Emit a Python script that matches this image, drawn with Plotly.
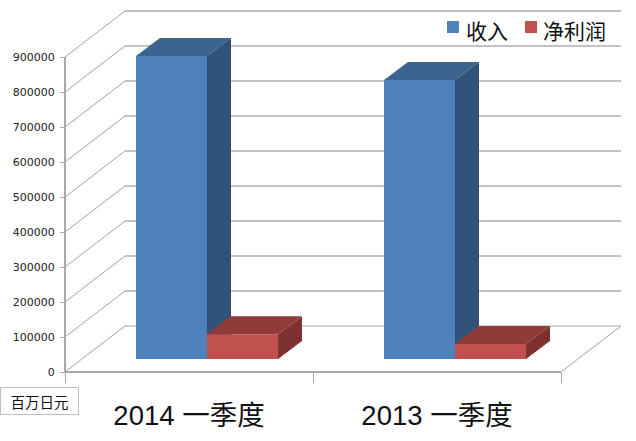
import plotly.graph_objects as go

# --- data ---
categories = ["2014 一季度", "2013 一季度"]
revenue = [866000, 797000]
net_profit = [71000, 43000]
y_ticks = [0, 100000, 200000, 300000, 400000, 500000, 600000, 700000, 800000, 900000]
series_names = ["收入", "净利润"]
unit_label = "百万日元"

W, H = 636, 441
# axis scales: pixel anchors of the front plane
X0_PX, CAT_PX = 189.0, 248.0      # category 0 centre, px per category
Y0_PX, VAL_PX = 372.0, 35.0 / 100000  # value 0 row, px per unit

x_range = [(0 - X0_PX) / CAT_PX, (W - X0_PX) / CAT_PX]
y_range = [(Y0_PX - H) / VAL_PX, Y0_PX / VAL_PX]

# depth of the wall / the bars, in axis units
WALL_DX, WALL_DY = 60 / CAT_PX, 46 / VAL_PX
BAR_DX, BAR_DY = 24 / CAT_PX, 18 / VAL_PX
BAR_W = 71 / CAT_PX
SHIFT_X, BASE_Y = 18 / CAT_PX, 13 / VAL_PX

x_lo, x_hi = -0.5, 1.5
GRID_SIDE, GRID_BACK, AXIS = "#a3a3a3", "#868686", "#a9a9a9"
BLUE, BLUE_TOP, BLUE_SIDE = "#4f81bd", "#3d6491", "#325379"
RED, RED_TOP, RED_SIDE = "#c0504d", "#8f3b39", "#7e3130"


def poly(points):
    return "M" + " L".join(f"{x},{y}" for x, y in points) + " Z"


shapes = []


def seg(p, q, color, width=1):
    shapes.append(dict(type="line", xref="x", yref="y", layer="below",
                       x0=p[0], y0=p[1], x1=q[0], y1=q[1],
                       line=dict(color=color, width=width)))


def face(points, color):
    shapes.append(dict(type="path", xref="x", yref="y", layer="below",
                       path=poly(points), fillcolor=color, line=dict(width=0)))


# walls
for v in y_ticks:
    seg((x_lo, v), (x_lo + WALL_DX, v + WALL_DY), GRID_SIDE)
    seg((x_lo + WALL_DX, v + WALL_DY), (x_hi + WALL_DX, v + WALL_DY),
        GRID_BACK if v else GRID_SIDE)
seg((x_hi, 0), (x_hi + WALL_DX, WALL_DY), GRID_SIDE)
seg((x_lo, 0), (x_hi, 0), AXIS, 2)
seg((x_lo, 0), (x_lo, y_ticks[-1]), AXIS, 2)


def depth_faces(left, right, top, c_top, c_side):
    base = BASE_Y
    face([(left, top), (right, top), (right + BAR_DX, top + BAR_DY),
          (left + BAR_DX, top + BAR_DY)], c_top)
    face([(right, top), (right + BAR_DX, top + BAR_DY),
          (right + BAR_DX, base + BAR_DY), (right, base)], c_side)


for i, v in enumerate(revenue):
    c = i + SHIFT_X
    depth_faces(c - BAR_W, c, BASE_Y + v, BLUE_TOP, BLUE_SIDE)
for i, v in enumerate(net_profit):
    c = i + SHIFT_X
    depth_faces(c, c + BAR_W, BASE_Y + v, RED_TOP, RED_SIDE)

fig = go.Figure()
idx = list(range(len(categories)))
fig.add_bar(x=idx, y=revenue, base=BASE_Y, width=BAR_W, offset=SHIFT_X - BAR_W,
            name=series_names[0], marker=dict(color=BLUE, line=dict(width=0)))
fig.add_bar(x=idx, y=net_profit, base=BASE_Y, width=BAR_W, offset=SHIFT_X,
            name=series_names[1], marker=dict(color=RED, line=dict(width=0)))

CJK = "Liberation Sans, Noto Sans CJK SC, sans-serif"

# legend key: swatch + text, placed in paper coordinates
annotations = [dict(text=unit_label, xref="paper", yref="paper", x=0, y=1 - 387 / H,
                    xanchor="left", yanchor="top", showarrow=False, width=77, height=26,
                    align="center", valign="middle", borderwidth=1, bordercolor="#bdbdbd",
                    bgcolor="white", borderpad=0,
                    font=dict(family="Noto Sans CJK SC", size=14.5, color="#111"))]
for name, color, swatch_px, text_px in zip(series_names, [BLUE, RED], [447, 525], [464.5, 542]):
    shapes.append(dict(type="rect", xref="paper", yref="paper", layer="above",
                       x0=swatch_px / W, x1=(swatch_px + 12) / W,
                       y0=1 - 33 / H, y1=1 - 21 / H, fillcolor=color, line=dict(width=0)))
    annotations.append(dict(text=name, xref="paper", yref="paper", x=text_px / W, y=1 - 30 / H,
                            xanchor="left", yanchor="middle", showarrow=False, borderpad=0,
                            font=dict(family="Noto Sans CJK SC", size=21, color="#111")))

fig.update_layout(
    width=W, height=H, margin=dict(l=0, r=0, t=0, b=0),
    paper_bgcolor="white", plot_bgcolor="white", barmode="overlay",
    shapes=shapes, showlegend=False, annotations=annotations,
    xaxis=dict(range=x_range, domain=[0, 1], anchor="free",
               position=(H - Y0_PX) / H, showgrid=False, zeroline=False,
               showline=False, tickmode="array", tickvals=idx, ticktext=categories,
               ticks="", ticklabelstandoff=24,
               tickfont=dict(family=CJK, size=27.5, color="#111"),
               minor=dict(tickmode="array", tickvals=[-0.5, 0.5, 1.5], ticks="outside",
                          ticklen=10, tickcolor=AXIS, tickwidth=1, showgrid=False),
               automargin=False, fixedrange=True),
    yaxis=dict(range=y_range, domain=[0, 1], anchor="free",
               position=(65 / W), showgrid=False, zeroline=False, showline=False,
               tickmode="array", tickvals=y_ticks, ticktext=[str(v) for v in y_ticks],
               ticks="outside", ticklen=5, tickcolor=AXIS, tickwidth=1, ticklabelstandoff=3,
               tickfont=dict(family="DejaVu Sans", size=11, color="#222"),
               automargin=False, fixedrange=True),
)

fig.write_html("out.html", config=dict(displayModeBar=False),
               post_script="document.body.style.margin='0';document.body.style.overflow='hidden';")
